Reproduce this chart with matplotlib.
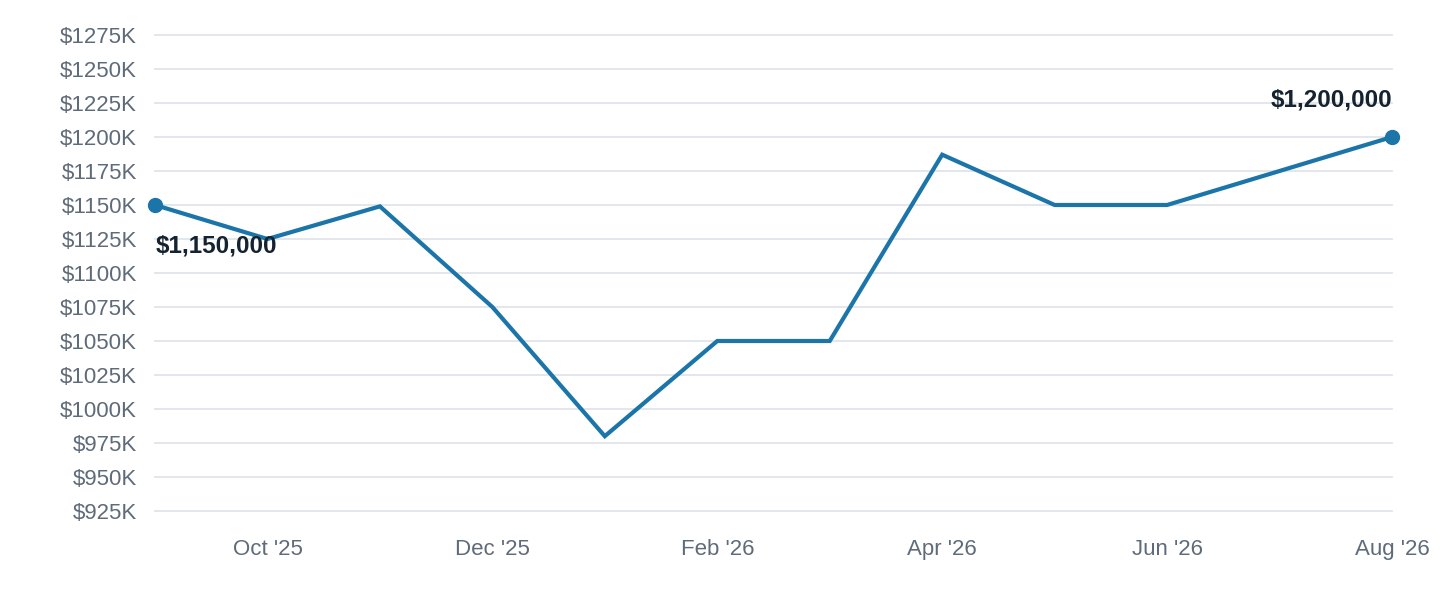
import matplotlib.pyplot as plt

# -----------------------------
# DATA
# -----------------------------
months = ["Sep '25", "Oct '25", "Nov '25", "Dec '25", "Jan '26", "Feb '26",
          "Mar '26", "Apr '26", "May '26", "Jun '26", "Jul '26", "Aug '26"]
values_k = [1150, 1125, 1149, 1075, 980, 1050, 1050, 1187, 1150, 1150, 1175, 1200]
y_ticks = list(range(925, 1276, 25))
start_label = "$1,150,000"
end_label = "$1,200,000"

line_color = "#1b75a8"
grid_color = "#e1e5ea"
tick_color = "#5f6b78"
label_color = "#14232f"

plt.rcParams["font.family"] = ["Liberation Sans", "DejaVu Sans"]

fig = plt.figure(figsize=(14.4, 6), dpi=100)
ax = fig.add_axes([155 / 1440, 1 - 511 / 600, (1392 - 155) / 1440, 476 / 600])

x = list(range(len(months)))
ax.plot(x, values_k, color=line_color, linewidth=3, solid_joinstyle="miter", zorder=3)
ax.plot([x[0], x[-1]], [values_k[0], values_k[-1]], "o", color=line_color,
        markersize=10, clip_on=False, zorder=4)

ax.annotate(start_label, (x[0], values_k[0]), xytext=(1, -41), textcoords="offset pixels",
            ha="left", va="center", fontsize=17.5, fontweight="bold", color=label_color)
ax.annotate(end_label, (x[-1], values_k[-1]), xytext=(0, 37), textcoords="offset pixels",
            ha="right", va="center", fontsize=17.5, fontweight="bold", color=label_color)

# -----------------------------
# FORMATTING
# -----------------------------
ax.set_xlim(x[0], x[-1])
ax.set_ylim(y_ticks[0], y_ticks[-1])
ax.set_yticks(y_ticks)
ax.set_yticklabels([f"${v}K" for v in y_ticks])
ax.set_xticks(x[1::2])
ax.set_xticklabels(months[1::2])

ax.grid(axis="y", color=grid_color, linewidth=1.3, zorder=0)
for gl in ax.get_ygridlines():
    gl.set_clip_on(False)
ax.set_axisbelow(True)
for spine in ax.spines.values():
    spine.set_visible(False)
ax.tick_params(axis="both", length=0, labelsize=16, labelcolor=tick_color)
ax.tick_params(axis="x", pad=20)
ax.tick_params(axis="y", pad=13)

fig.savefig("out.png", dpi=100)
